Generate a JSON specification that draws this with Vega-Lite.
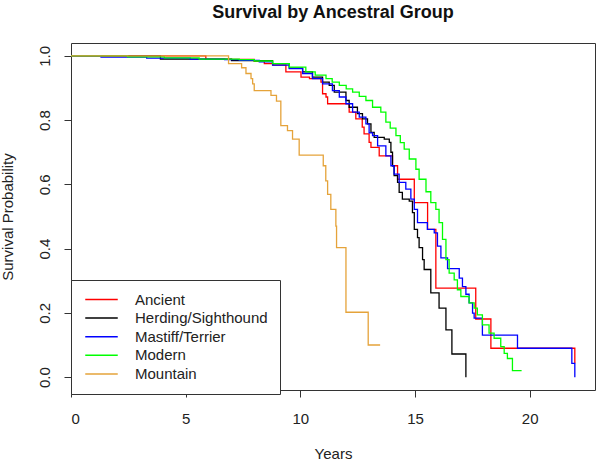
{
  "$schema": "https://vega.github.io/schema/vega-lite/v6.json",
  "width": 524,
  "height": 347,
  "autosize": {"type": "none"},
  "padding": {"left": 71, "top": 43, "right": 2, "bottom": 72},
  "background": "white",
  "title": {"text": "Survival by Ancestral Group", "fontSize": 18, "fontWeight": "bold", "font": "Liberation Sans", "color": "#111", "anchor": "middle", "offset": 21},
  "config": {
    "view": {"stroke": "#333", "strokeWidth": 1},
    "axis": {"domain": false, "grid": false, "tickColor": "#333", "tickSize": 7, "tickWidth": 1, "labelFont": "Liberation Sans", "labelFontSize": 15, "labelColor": "#222", "titleFont": "Liberation Sans", "titleFontSize": 15, "titleFontWeight": "normal", "titleColor": "#222"},
    "legend": {"orient": "none", "legendX": 0, "legendY": 237, "strokeColor": "#333", "fillColor": "white", "padding": 12, "symbolType": "M-2.5,0H2.5", "symbolSize": 169, "symbolStrokeWidth": 1.5, "symbolOffset": 11, "labelOffset": 26, "labelFont": "Liberation Sans", "labelFontSize": 15, "labelColor": "#222", "rowPadding": 2.6, "title": null}
  },
  "data": {"values": [
    {"group":"Ancient","years":0,"survival":1},{"group":"Ancient","years":5.88,"survival":0.989},{"group":"Ancient","years":7.99,"survival":0.983},{"group":"Ancient","years":8.43,"survival":0.976},{"group":"Ancient","years":8.8,"survival":0.971},{"group":"Ancient","years":9.37,"survival":0.95},{"group":"Ancient","years":10.03,"survival":0.934},{"group":"Ancient","years":10.4,"survival":0.929},{"group":"Ancient","years":10.9,"survival":0.918},{"group":"Ancient","years":10.97,"survival":0.882},{"group":"Ancient","years":11.12,"survival":0.872},{"group":"Ancient","years":11.19,"survival":0.851},{"group":"Ancient","years":12.13,"survival":0.825},{"group":"Ancient","years":12.42,"survival":0.804},{"group":"Ancient","years":12.7,"survival":0.778},{"group":"Ancient","years":12.78,"survival":0.757},{"group":"Ancient","years":13.0,"survival":0.731},{"group":"Ancient","years":13.08,"survival":0.715},{"group":"Ancient","years":13.44,"survival":0.689},{"group":"Ancient","years":14.02,"survival":0.658},{"group":"Ancient","years":14.24,"survival":0.616},{"group":"Ancient","years":14.97,"survival":0.543},{"group":"Ancient","years":15.55,"survival":0.46},{"group":"Ancient","years":15.91,"survival":0.277},{"group":"Ancient","years":17.65,"survival":0.181},{"group":"Ancient","years":18.31,"survival":0.09},{"group":"Ancient","years":21.97,"survival":0.043},
    {"group":"Herding/Sighthound","years":0,"survival":1},{"group":"Herding/Sighthound","years":3.9,"survival":0.99},{"group":"Herding/Sighthound","years":7.0,"survival":0.985},{"group":"Herding/Sighthound","years":8.79,"survival":0.976},{"group":"Herding/Sighthound","years":9.52,"survival":0.962},{"group":"Herding/Sighthound","years":10.1,"survival":0.95},{"group":"Herding/Sighthound","years":10.53,"survival":0.934},{"group":"Herding/Sighthound","years":10.97,"survival":0.918},{"group":"Herding/Sighthound","years":11.26,"survival":0.908},{"group":"Herding/Sighthound","years":11.48,"survival":0.887},{"group":"Herding/Sighthound","years":11.99,"survival":0.861},{"group":"Herding/Sighthound","years":12.13,"survival":0.84},{"group":"Herding/Sighthound","years":12.49,"survival":0.82},{"group":"Herding/Sighthound","years":12.71,"survival":0.804},{"group":"Herding/Sighthound","years":12.93,"survival":0.788},{"group":"Herding/Sighthound","years":13.08,"survival":0.762},{"group":"Herding/Sighthound","years":13.22,"survival":0.746},{"group":"Herding/Sighthound","years":13.66,"survival":0.741},{"group":"Herding/Sighthound","years":13.88,"survival":0.731},{"group":"Herding/Sighthound","years":13.95,"survival":0.7},{"group":"Herding/Sighthound","years":14.02,"survival":0.658},{"group":"Herding/Sighthound","years":14.09,"survival":0.627},{"group":"Herding/Sighthound","years":14.24,"survival":0.606},{"group":"Herding/Sighthound","years":14.31,"survival":0.575},{"group":"Herding/Sighthound","years":14.45,"survival":0.554},{"group":"Herding/Sighthound","years":14.75,"survival":0.548},{"group":"Herding/Sighthound","years":14.89,"survival":0.512},{"group":"Herding/Sighthound","years":14.97,"survival":0.46},{"group":"Herding/Sighthound","years":15.11,"survival":0.434},{"group":"Herding/Sighthound","years":15.18,"survival":0.403},{"group":"Herding/Sighthound","years":15.33,"survival":0.366},{"group":"Herding/Sighthound","years":15.4,"survival":0.335},{"group":"Herding/Sighthound","years":15.69,"survival":0.262},{"group":"Herding/Sighthound","years":16.05,"survival":0.215},{"group":"Herding/Sighthound","years":16.35,"survival":0.147},{"group":"Herding/Sighthound","years":16.61,"survival":0.072},{"group":"Herding/Sighthound","years":17.22,"survival":0.0},
    {"group":"Mastiff/Terrier","years":0,"survival":1},{"group":"Mastiff/Terrier","years":1.31,"survival":0.996},{"group":"Mastiff/Terrier","years":3.3,"survival":0.993},{"group":"Mastiff/Terrier","years":5.2,"survival":0.99},{"group":"Mastiff/Terrier","years":6.7,"survival":0.988},{"group":"Mastiff/Terrier","years":7.34,"survival":0.986},{"group":"Mastiff/Terrier","years":8.21,"survival":0.981},{"group":"Mastiff/Terrier","years":8.79,"survival":0.971},{"group":"Mastiff/Terrier","years":9.52,"survival":0.96},{"group":"Mastiff/Terrier","years":10.1,"survival":0.945},{"group":"Mastiff/Terrier","years":10.53,"survival":0.929},{"group":"Mastiff/Terrier","years":10.97,"survival":0.913},{"group":"Mastiff/Terrier","years":11.4,"survival":0.892},{"group":"Mastiff/Terrier","years":11.7,"survival":0.872},{"group":"Mastiff/Terrier","years":11.99,"survival":0.851},{"group":"Mastiff/Terrier","years":12.28,"survival":0.825},{"group":"Mastiff/Terrier","years":12.57,"survival":0.809},{"group":"Mastiff/Terrier","years":12.86,"survival":0.788},{"group":"Mastiff/Terrier","years":13.0,"survival":0.76},{"group":"Mastiff/Terrier","years":13.15,"survival":0.752},{"group":"Mastiff/Terrier","years":13.37,"survival":0.72},{"group":"Mastiff/Terrier","years":13.73,"survival":0.689},{"group":"Mastiff/Terrier","years":13.95,"survival":0.658},{"group":"Mastiff/Terrier","years":14.09,"survival":0.632},{"group":"Mastiff/Terrier","years":14.31,"survival":0.606},{"group":"Mastiff/Terrier","years":14.6,"survival":0.585},{"group":"Mastiff/Terrier","years":14.82,"survival":0.554},{"group":"Mastiff/Terrier","years":14.97,"survival":0.522},{"group":"Mastiff/Terrier","years":15.11,"survival":0.481},{"group":"Mastiff/Terrier","years":15.54,"survival":0.46},{"group":"Mastiff/Terrier","years":15.84,"survival":0.449},{"group":"Mastiff/Terrier","years":15.98,"survival":0.408},{"group":"Mastiff/Terrier","years":16.13,"survival":0.371},{"group":"Mastiff/Terrier","years":16.42,"survival":0.338},{"group":"Mastiff/Terrier","years":16.93,"survival":0.308},{"group":"Mastiff/Terrier","years":17.07,"survival":0.282},{"group":"Mastiff/Terrier","years":17.22,"survival":0.258},{"group":"Mastiff/Terrier","years":17.36,"survival":0.231},{"group":"Mastiff/Terrier","years":17.51,"survival":0.199},{"group":"Mastiff/Terrier","years":17.58,"survival":0.184},{"group":"Mastiff/Terrier","years":17.94,"survival":0.131},{"group":"Mastiff/Terrier","years":19.47,"survival":0.09},{"group":"Mastiff/Terrier","years":21.84,"survival":0.043},{"group":"Mastiff/Terrier","years":21.97,"survival":0.0},
    {"group":"Modern","years":0,"survival":1},{"group":"Modern","years":2.47,"survival":0.997},{"group":"Modern","years":4.07,"survival":0.994},{"group":"Modern","years":5.59,"survival":0.99},{"group":"Modern","years":7.34,"survival":0.988},{"group":"Modern","years":7.99,"survival":0.984},{"group":"Modern","years":8.79,"survival":0.976},{"group":"Modern","years":9.52,"survival":0.965},{"group":"Modern","years":10.24,"survival":0.95},{"group":"Modern","years":10.65,"survival":0.94},{"group":"Modern","years":11.12,"survival":0.929},{"group":"Modern","years":11.39,"survival":0.918},{"group":"Modern","years":11.7,"survival":0.908},{"group":"Modern","years":12.0,"survival":0.897},{"group":"Modern","years":12.28,"survival":0.887},{"group":"Modern","years":12.57,"survival":0.874},{"group":"Modern","years":12.86,"survival":0.861},{"group":"Modern","years":13.15,"survival":0.84},{"group":"Modern","years":13.51,"survival":0.825},{"group":"Modern","years":13.73,"survival":0.794},{"group":"Modern","years":13.92,"survival":0.775},{"group":"Modern","years":14.17,"survival":0.752},{"group":"Modern","years":14.36,"survival":0.73},{"group":"Modern","years":14.53,"survival":0.71},{"group":"Modern","years":14.75,"survival":0.679},{"group":"Modern","years":15.04,"survival":0.647},{"group":"Modern","years":15.18,"survival":0.616},{"group":"Modern","years":15.48,"survival":0.577},{"group":"Modern","years":15.69,"survival":0.543},{"group":"Modern","years":15.91,"survival":0.522},{"group":"Modern","years":16.05,"survival":0.481},{"group":"Modern","years":16.2,"survival":0.429},{"group":"Modern","years":16.35,"survival":0.366},{"group":"Modern","years":16.49,"survival":0.324},{"group":"Modern","years":16.71,"survival":0.303},{"group":"Modern","years":16.85,"survival":0.272},{"group":"Modern","years":17.0,"survival":0.251},{"group":"Modern","years":17.36,"survival":0.231},{"group":"Modern","years":17.58,"survival":0.215},{"group":"Modern","years":17.72,"survival":0.194},{"group":"Modern","years":17.94,"survival":0.163},{"group":"Modern","years":18.23,"survival":0.137},{"group":"Modern","years":18.45,"survival":0.121},{"group":"Modern","years":18.74,"survival":0.095},{"group":"Modern","years":18.89,"survival":0.074},{"group":"Modern","years":19.03,"survival":0.058},{"group":"Modern","years":19.25,"survival":0.02},{"group":"Modern","years":19.65,"survival":0.02},
    {"group":"Mountain","years":0,"survival":1},{"group":"Mountain","years":6.87,"survival":0.976},{"group":"Mountain","years":7.44,"survival":0.963},{"group":"Mountain","years":7.63,"survival":0.945},{"group":"Mountain","years":7.85,"survival":0.929},{"group":"Mountain","years":7.92,"survival":0.913},{"group":"Mountain","years":7.99,"survival":0.892},{"group":"Mountain","years":8.72,"survival":0.877},{"group":"Mountain","years":8.96,"survival":0.859},{"group":"Mountain","years":9.15,"survival":0.783},{"group":"Mountain","years":9.44,"survival":0.767},{"group":"Mountain","years":9.66,"survival":0.741},{"group":"Mountain","years":9.95,"survival":0.691},{"group":"Mountain","years":11.0,"survival":0.658},{"group":"Mountain","years":11.11,"survival":0.611},{"group":"Mountain","years":11.19,"survival":0.569},{"group":"Mountain","years":11.33,"survival":0.522},{"group":"Mountain","years":11.55,"survival":0.47},{"group":"Mountain","years":11.58,"survival":0.403},{"group":"Mountain","years":11.99,"survival":0.202},{"group":"Mountain","years":12.96,"survival":0.1},{"group":"Mountain","years":13.48,"survival":0.1}
  ]},
  "mark": {"type": "line", "interpolate": "step-after", "strokeWidth": 1.3, "clip": true},
  "encoding": {
    "x": {"field": "years", "type": "quantitative", "scale": {"domain": [0, 22.85], "nice": false, "zero": false}, "axis": {"values": [0, 5, 10, 15, 20], "labelPadding": 14, "title": "Years", "titleX": 262, "titleY": 63, "titleBaseline": "middle", "titleAnchor": "middle"}},
    "y": {"field": "survival", "type": "quantitative", "scale": {"domain": [-0.04, 1.04], "nice": false, "zero": false}, "axis": {"values": [0, 0.2, 0.4, 0.6, 0.8, 1.0], "format": ".1f", "labelAngle": -90, "labelAlign": "center", "labelBaseline": "alphabetic", "labelPadding": 15, "title": "Survival Probability", "titleAngle": -90, "titleX": -59, "titleY": 173.5, "titleBaseline": "alphabetic", "titleAlign": "center"}},
    "color": {"field": "group", "type": "nominal", "scale": {"domain": ["Ancient", "Herding/Sighthound", "Mastiff/Terrier", "Modern", "Mountain"], "range": ["#FF0000", "#000000", "#0000FF", "#00FF00", "#E5A33A"]}}
  }
}
